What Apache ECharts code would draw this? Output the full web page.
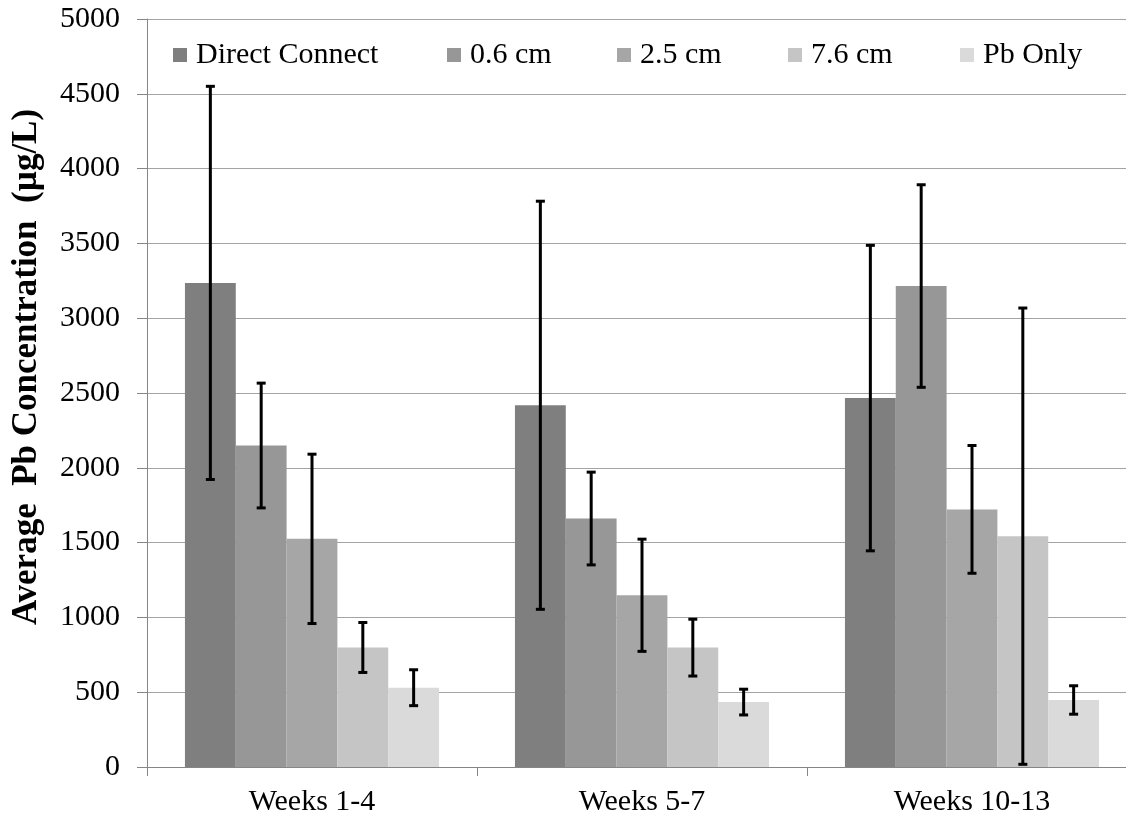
<!DOCTYPE html>
<html>
<head>
<meta charset="utf-8">
<script src="https://cdn.jsdelivr.net/npm/echarts@6/dist/echarts.min.js"></script>
<style>
html,body{margin:0;padding:0;background:#fff;}
#chart{width:1126px;height:818px;}
</style>
</head>
<body>
<div id="chart"></div>
<script>
// ---- data ----
var categories = ['Weeks 1-4', 'Weeks 5-7', 'Weeks 10-13'];
var seriesNames = ['Direct Connect', '0.6 cm', '2.5 cm', '7.6 cm', 'Pb Only'];
var directConnect = [3236, 2418, 2466];
var cm06 = [2149, 1661, 3215];
var cm25 = [1525, 1148, 1722];
var cm76 = [799, 798, 1543];
var pbOnly = [530, 434, 448];
var directConnectErr = [1314, 1364, 1021];
var cm06Err = [417, 310, 677];
var cm25Err = [566, 375, 427];
var cm76Err = [167, 190, 1525];
var pbOnlyErr = [120, 86, 95];
var yTicks = [0, 500, 1000, 1500, 2000, 2500, 3000, 3500, 4000, 4500, 5000];
var yTitle = 'Average  Pb Concentration  (µg/L)';

var values = [directConnect, cm06, cm25, cm76, pbOnly];
var errors = [directConnectErr, cm06Err, cm25Err, cm76Err, pbOnlyErr];
var colors = ['#7f7f7f', '#979797', '#a6a6a6', '#c5c5c5', '#dadada'];
var FONT = '"Liberation Serif", "Times New Roman", serif';
var GAP = 0.23;

var chart = echarts.init(document.getElementById('chart'), null, {renderer: 'canvas'});

var series = [];
values.forEach(function (vals, i) {
  series.push({
    name: seriesNames[i],
    type: 'bar',
    barGap: '0%',
    barCategoryGap: (GAP * 100) + '%',
    itemStyle: {color: colors[i]},
    data: vals,
    z: 2
  });
});
values.forEach(function (vals, i) {
  var errData = vals.map(function (v, k) { return [k, v - errors[i][k], v + errors[i][k]]; });
  series.push({
    type: 'custom',
    name: seriesNames[i] + ' error',
    z: 5,
    silent: true,
    data: errData,
    encode: {x: 0, y: [1, 2]},
    renderItem: function (params, api) {
      var k = api.value(0);
      var lo = api.coord([k, api.value(1)]);
      var hi = api.coord([k, api.value(2)]);
      var catW = api.size([1, 0])[0];
      var groupW = catW * (1 - GAP);
      var bw = groupW / 5;
      var x = lo[0] - groupW / 2 + (i + 0.5) * bw;
      var cap = 4.5;
      var st = {stroke: '#000', lineWidth: 3};
      return {
        type: 'group',
        children: [
          {type: 'line', shape: {x1: x, y1: lo[1], x2: x, y2: hi[1]}, style: st},
          {type: 'line', shape: {x1: x - cap, y1: lo[1], x2: x + cap, y2: lo[1]}, style: st},
          {type: 'line', shape: {x1: x - cap, y1: hi[1], x2: x + cap, y2: hi[1]}, style: st}
        ]
      };
    }
  });
});

var legendLefts = [173, 447, 617, 788, 960];
var legends = seriesNames.map(function (n, i) {
  return {
    data: [n],
    left: legendLefts[i],
    top: 40,
    padding: 0,
    itemWidth: 14,
    itemHeight: 14,
    icon: 'rect',
    selectedMode: false,
    textStyle: {fontFamily: FONT, fontSize: 30, color: '#000', padding: [0, 0, 0, 4]}
  };
});

chart.setOption({
  animation: false,
  backgroundColor: '#fff',
  grid: {left: 147, right: -11, top: 19, bottom: 51, containLabel: false, outerBoundsMode: 'none'},
  legend: legends,
  graphic: [{
    type: 'text',
    x: 27,
    y: 367,
    rotation: Math.PI / 2,
    style: {
      text: yTitle,
      fontFamily: FONT,
      fontSize: 35,
      fontWeight: 'bold',
      fill: '#000',
      align: 'center',
      verticalAlign: 'middle'
    }
  }],
  xAxis: {
    type: 'category',
    data: categories,
    axisLine: {lineStyle: {color: '#868686', width: 1}},
    axisTick: {show: true, length: 9, lineStyle: {color: '#868686'}},
    axisLabel: {fontFamily: FONT, fontSize: 30, color: '#000', margin: 20},
    splitLine: {show: false}
  },
  yAxis: {
    type: 'value',
    min: yTicks[0],
    max: yTicks[yTicks.length - 1],
    interval: yTicks[1] - yTicks[0],
    axisLine: {show: true, lineStyle: {color: '#868686', width: 1}},
    axisTick: {show: true, length: 10, lineStyle: {color: '#868686'}},
    axisLabel: {fontFamily: FONT, fontSize: 30, color: '#000', margin: 27, formatter: function (v) { return String(v); }},
    splitLine: {show: true, lineStyle: {color: '#a3a3a3', width: 1}}
  },
  series: series
});
</script>
</body>
</html>
